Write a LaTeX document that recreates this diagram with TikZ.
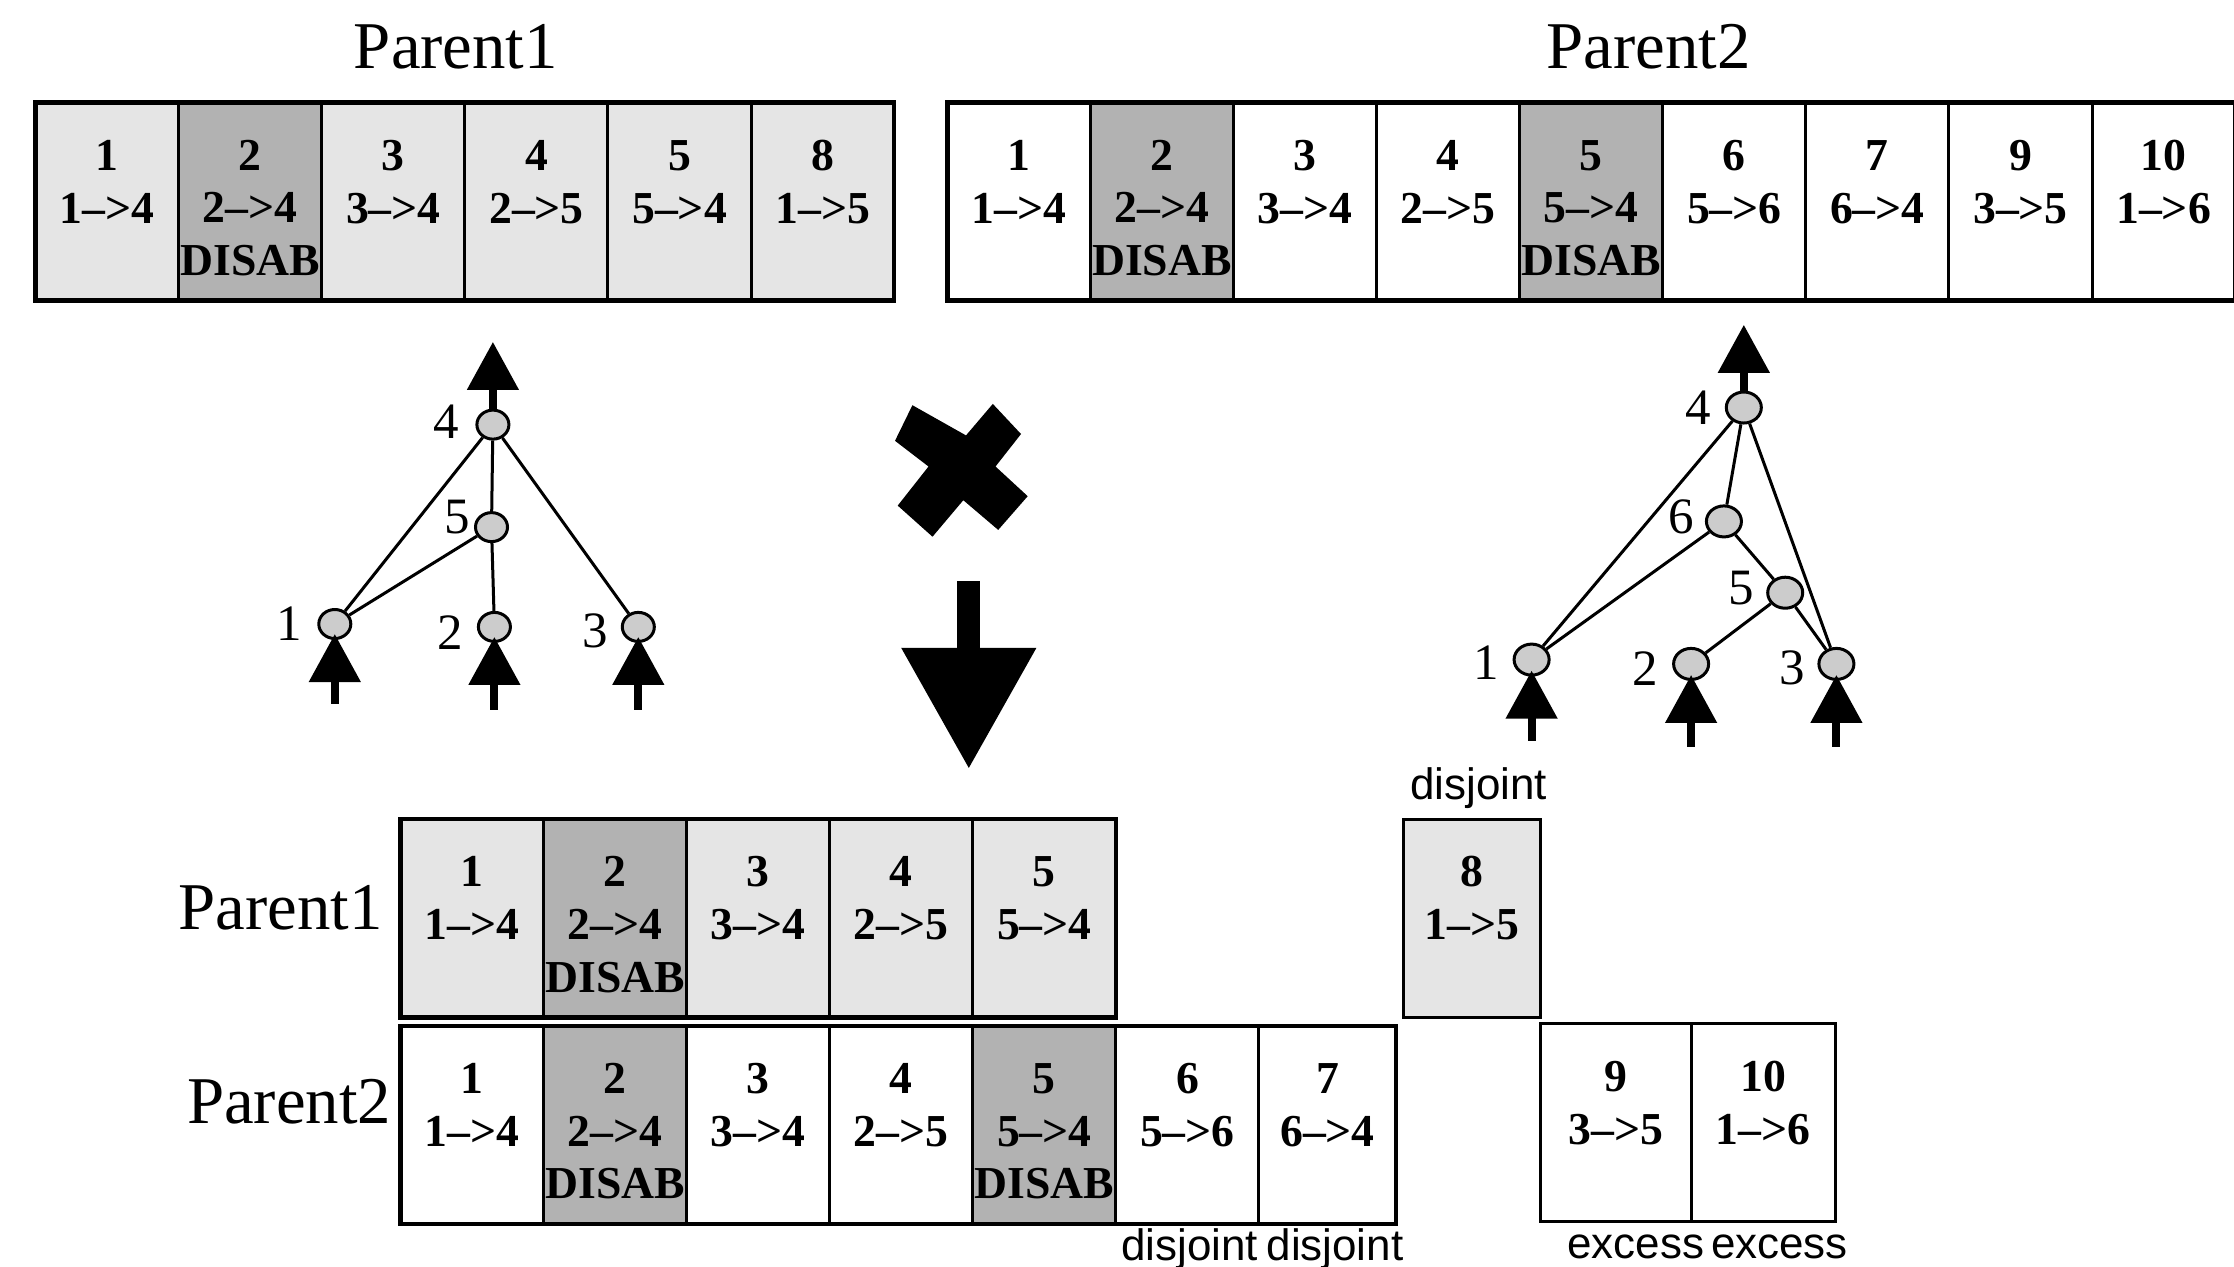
\documentclass[tikz,border=0pt]{standalone}
\usepackage{fontspec}
\setmainfont{Liberation Serif}
\newfontfamily\tagfont{Liberation Sans}
\usetikzlibrary{positioning,arrows.meta,shapes.geometric}

\definecolor{lightgene}{gray}{0.90}
\definecolor{darkgene}{gray}{0.70}
\definecolor{neurongray}{gray}{0.80}

% innovation number, connection, and an optional third line
\newcommand\genetext[3]{\rule{0pt}{12.2pt}#1\\#2\\\mbox{}#3}

\tikzset{
  gene/.style={draw, line width=0.03cm, minimum width=1.43cm, minimum height=1.98cm,
    inner sep=0pt, outer sep=0pt, align=center,
    font=\bfseries\fontsize{13}{15}\selectfont},
  shared/.style={gene, fill=lightgene},
  disab/.style={gene, fill=darkgene},
  frame/.style={line width=0.045cm},
  title/.style={font=\fontsize{19}{22}\selectfont, inner sep=0pt},
  tag/.style={font=\tagfont\fontsize{12.5}{14}\selectfont, inner sep=0pt},
  neuron/.style={ellipse, draw, fill=neurongray, line width=0.03cm,
    minimum width=0.32cm, minimum height=0.29cm, inner sep=0pt},
  bigneuron/.style={neuron, minimum width=0.35cm, minimum height=0.31cm},
  num/.style={font=\fontsize{14.5}{16}\selectfont, inner sep=0pt},
  link/.style={line width=0.03cm},
  outarrow/.style={line width=0.08cm, -{Triangle[length=0.48cm,width=0.5cm]}},
  inarrow/.style={outarrow, shorten >=-0.06cm},
}

\begin{document}
\begin{tikzpicture}[x=0.01cm, y=-0.01cm]
  \useasboundingbox (0,0) rectangle (2234,1266);

  % genomes of the two parents
  \node[title] (t1) at (455.9,47) {Parent1};
  \node[title] (t2) at (1648.4,47) {Parent2};

  \node[shared] (p1i1) at (107.2,201.6) {\genetext{1}{1-->4}{}};
  \node[disab, right=0pt of p1i1] (p1i2) {\genetext{2}{2-->4}{DISAB}};
  \node[shared, right=0pt of p1i2] (p1i3) {\genetext{3}{3-->4}{}};
  \node[shared, right=0pt of p1i3] (p1i4) {\genetext{4}{2-->5}{}};
  \node[shared, right=0pt of p1i4] (p1i5) {\genetext{5}{5-->4}{}};
  \node[shared, right=0pt of p1i5] (p1i8) {\genetext{8}{1-->5}{}};
  \draw[frame] (p1i1.north west) rectangle (p1i8.south east);

  \node[gene] (p2i1) at (1018.9,201.6) {\genetext{1}{1-->4}{}};
  \node[disab, right=0pt of p2i1] (p2i2) {\genetext{2}{2-->4}{DISAB}};
  \node[gene, right=0pt of p2i2] (p2i3) {\genetext{3}{3-->4}{}};
  \node[gene, right=0pt of p2i3] (p2i4) {\genetext{4}{2-->5}{}};
  \node[disab, right=0pt of p2i4] (p2i5) {\genetext{5}{5-->4}{DISAB}};
  \node[gene, right=0pt of p2i5] (p2i6) {\genetext{6}{5-->6}{}};
  \node[gene, right=0pt of p2i6] (p2i7) {\genetext{7}{6-->4}{}};
  \node[gene, right=0pt of p2i7] (p2i9) {\genetext{9}{3-->5}{}};
  \node[gene, right=0pt of p2i9] (p2i10) {\genetext{10}{1-->6}{}};
  \draw[frame] (p2i1.north west) rectangle (p2i10.south east);

  % network of parent 1
  \node[neuron] (l4) at (492.9,424.6) {};
  \node[neuron] (l5) at (491.5,527.1) {};
  \node[neuron] (l1) at (334.8,624) {};
  \node[neuron] (l2) at (494.4,626.9) {};
  \node[neuron] (l3) at (638.3,626.9) {};
  \node[num] (l4n) at (445.9,421.7) {4};
  \node[num] (l5n) at (457.3,517.2) {5};
  \node[num] (l1n) at (289.2,624) {1};
  \node[num] (l2n) at (450.2,632.6) {2};
  \node[num] (l3n) at (595.5,631.1) {3};
  \draw[link] (l4) -- (l1) (l4) -- (l5) (l4) -- (l3) (l5) -- (l1) (l5) -- (l2);
  \coordinate (l4out) at (492.9,341.9);
  \coordinate (l1in) at (334.8,703.8);
  \coordinate (l2in) at (494.4,709.5);
  \coordinate (l3in) at (638.3,709.5);
  \draw[outarrow] (l4) -- (l4out);
  \draw[inarrow] (l1in) -- (l1);
  \draw[inarrow] (l2in) -- (l2);
  \draw[inarrow] (l3in) -- (l3);

  % network of parent 2
  \node[bigneuron] (r4) at (1743.8,407.5) {};
  \node[bigneuron] (r6) at (1723.9,521.4) {};
  \node[bigneuron] (r5) at (1785.2,592.7) {};
  \node[bigneuron] (r1) at (1531.6,659.6) {};
  \node[bigneuron] (r2) at (1691.1,663.9) {};
  \node[bigneuron] (r3) at (1836.4,663.9) {};
  \node[num] (r4n) at (1698.3,407.5) {4};
  \node[num] (r6n) at (1681.1,517.2) {6};
  \node[num] (r5n) at (1741,588.4) {5};
  \node[num] (r1n) at (1486,662.5) {1};
  \node[num] (r2n) at (1645.5,668.2) {2};
  \node[num] (r3n) at (1792.3,668.2) {3};
  \draw[link] (r4) -- (r1) (r4) -- (r6) (r4) -- (r3) (r6) -- (r1)
    (r6) -- (r5) (r5) -- (r2) (r5) -- (r3);
  \coordinate (r4out) at (1743.8,324.8);
  \coordinate (r1in) at (1531.6,740.8);
  \coordinate (r2in) at (1691.1,746.5);
  \coordinate (r3in) at (1836.4,746.5);
  \draw[outarrow] (r4) -- (r4out);
  \draw[inarrow] (r1in) -- (r1);
  \draw[inarrow] (r2in) -- (r2);
  \draw[inarrow] (r3in) -- (r3);

  % crossover sign and arrow
  \fill (912.4,405.2) -- (966,435.4) -- (992.8,403.9) -- (1021,434) -- (995.5,466.5)
    -- (1027.7,496.2) -- (998.2,529.9) -- (963.3,500.2) -- (932.5,536.7)
    -- (897.7,505.6) -- (928.5,466.5) -- (895,440.8) -- cycle;
  \draw[line width=0.23cm, -{Triangle[length=1.21cm,width=1.285cm]}] (968.8,581) -- (968.8,769);

  % genes lined up by innovation number
  \node[title] (a0) at (280.7,907.5) {Parent1};
  \node[shared] (a1) at (472,918.2) {\genetext{1}{1-->4}{}};
  \node[disab, right=0pt of a1] (a2) {\genetext{2}{2-->4}{DISAB}};
  \node[shared, right=0pt of a2] (a3) {\genetext{3}{3-->4}{}};
  \node[shared, right=0pt of a3] (a4) {\genetext{4}{2-->5}{}};
  \node[shared, right=0pt of a4] (a5) {\genetext{5}{5-->4}{}};
  \draw[frame] (a1.north west) rectangle (a5.south east);
  \node[shared, minimum width=1.37cm] (a8) at (1471.7,918.2) {\genetext{8}{1-->5}{}};

  \node[title] (b0) at (289.2,1101.3) {Parent2};
  \node[gene] (b1) at (472,1124.8) {\genetext{1}{1-->4}{}};
  \node[disab, right=0pt of b1] (b2) {\genetext{2}{2-->4}{DISAB}};
  \node[gene, right=0pt of b2] (b3) {\genetext{3}{3-->4}{}};
  \node[gene, right=0pt of b3] (b4) {\genetext{4}{2-->5}{}};
  \node[disab, right=0pt of b4] (b5) {\genetext{5}{5-->4}{DISAB}};
  \node[gene, right=0pt of b5] (b6) {\genetext{6}{5-->6}{}};
  \node[gene, right=0pt of b6, minimum width=1.37cm] (b7) {\genetext{7}{6-->4}{}};
  \draw[frame] (b1.north west) rectangle (b7.south east);
  \node[gene, minimum width=1.51cm] (b9) at (1615.6,1122.7) {\genetext{9}{3-->5}{}};
  \node[gene, right=0pt of b9, minimum width=1.44cm] (b10) {\genetext{10}{1-->6}{}};

  \node[tag] (d8) at (1478.8,787.9) {disjoint};
  \node[tag] (d6) at (1189.6,1249.5) {disjoint};
  \node[tag] (d7) at (1335,1249.5) {disjoint};
  \node[tag] (e9) at (1635.6,1246.6) {excess};
  \node[tag] (e10) at (1779.5,1246.6) {excess};
\end{tikzpicture}
\end{document}
